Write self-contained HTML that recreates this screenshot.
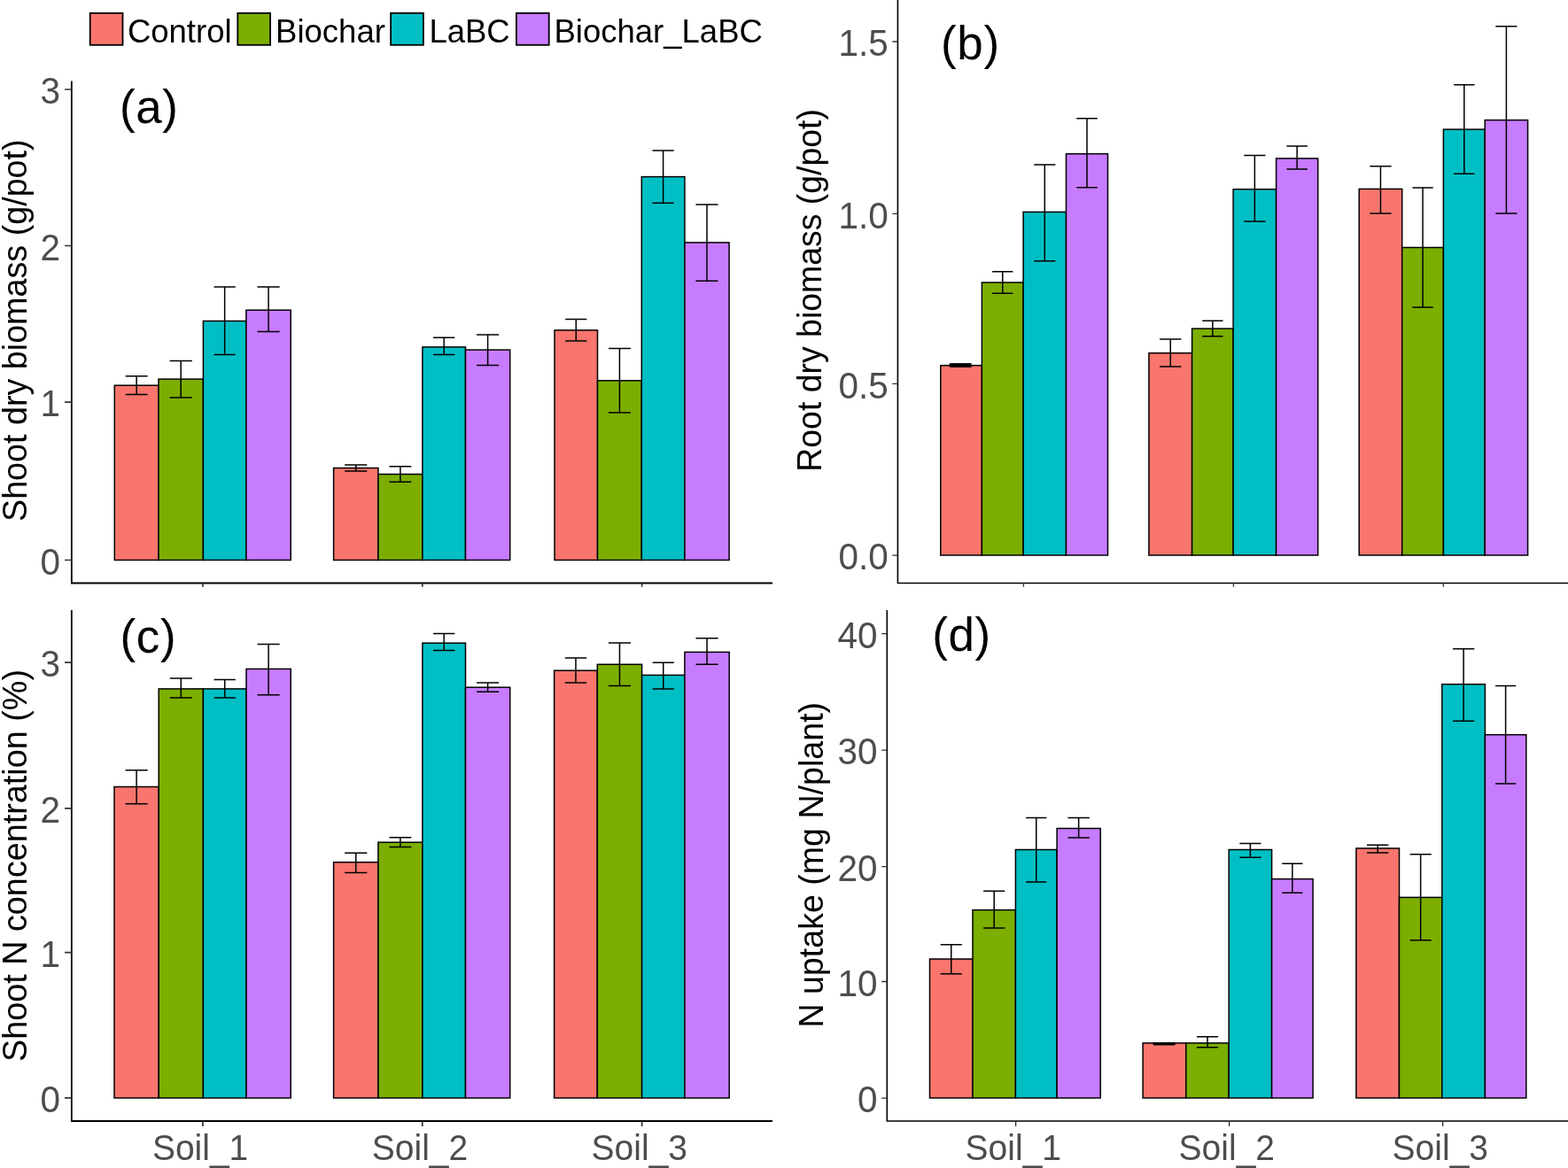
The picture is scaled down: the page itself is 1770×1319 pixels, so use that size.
<!DOCTYPE html><html><head><meta charset="utf-8"><style>html,body{margin:0;padding:0;background:#fff;overflow:hidden;}svg{display:block;}</style></head><body>
<svg width="1770" height="1319" viewBox="0 0 1770 1319">
<rect x="0" y="0" width="1770" height="1319" fill="#FFFFFF"/>
<g stroke="#000" stroke-width="1.5" stroke-linejoin="miter">
<rect x="129.3" y="435.2" width="49.7" height="197.3" fill="#F8766D"/>
<rect x="179" y="428.1" width="50.4" height="204.4" fill="#7CAE00"/>
<rect x="229.4" y="362.5" width="48.5" height="270" fill="#00BFC4"/>
<rect x="277.9" y="350.2" width="50.3" height="282.3" fill="#C77CFF"/>
<rect x="376.6" y="528.5" width="50.3" height="104" fill="#F8766D"/>
<rect x="426.9" y="535.5" width="50" height="97" fill="#7CAE00"/>
<rect x="476.9" y="391.9" width="48.6" height="240.6" fill="#00BFC4"/>
<rect x="525.5" y="395.1" width="50.2" height="237.4" fill="#C77CFF"/>
<rect x="626" y="372.9" width="48.5" height="259.6" fill="#F8766D"/>
<rect x="674.5" y="429.8" width="49.8" height="202.7" fill="#7CAE00"/>
<rect x="724.3" y="199.6" width="48.6" height="432.9" fill="#00BFC4"/>
<rect x="772.9" y="273.9" width="50.2" height="358.6" fill="#C77CFF"/>
</g>
<path d="M141.73 424.8H166.57M141.73 445.5H166.57M154.15 424.8V445.5M191.6 407.4H216.8M191.6 449H216.8M204.2 407.4V449M241.52 324.1H265.77M241.52 400.4H265.77M253.65 324.1V400.4M290.47 324.1H315.62M290.47 374.4H315.62M303.05 324.1V374.4M389.18 525H414.32M389.18 532H414.32M401.75 525V532M439.4 526.8H464.4M439.4 544.2H464.4M451.9 526.8V544.2M489.05 381.3H513.35M489.05 400.5H513.35M501.2 381.3V400.5M538.05 378H563.15M538.05 412.5H563.15M550.6 378V412.5M638.12 360.6H662.38M638.12 384.9H662.38M650.25 360.6V384.9M686.95 393.5H711.85M686.95 466H711.85M699.4 393.5V466M736.45 170.1H760.75M736.45 229.2H760.75M748.6 170.1V229.2M785.45 230.9H810.55M785.45 317.2H810.55M798 230.9V317.2" stroke="#000" stroke-width="1.5" fill="none"/>
<g stroke="#000" stroke-width="1.5" stroke-linejoin="miter">
<rect x="1061.8" y="412.7" width="46.6" height="214.3" fill="#F8766D"/>
<rect x="1108.4" y="319" width="46.7" height="308" fill="#7CAE00"/>
<rect x="1155.1" y="239.4" width="48.4" height="387.6" fill="#00BFC4"/>
<rect x="1203.5" y="173.7" width="47" height="453.3" fill="#C77CFF"/>
<rect x="1296.9" y="398.7" width="48.7" height="228.3" fill="#F8766D"/>
<rect x="1345.6" y="371.1" width="46.5" height="255.9" fill="#7CAE00"/>
<rect x="1392.1" y="213.7" width="48.5" height="413.3" fill="#00BFC4"/>
<rect x="1440.6" y="178.9" width="47.1" height="448.1" fill="#C77CFF"/>
<rect x="1534.2" y="213.4" width="48.5" height="413.6" fill="#F8766D"/>
<rect x="1582.7" y="279.5" width="46.7" height="347.5" fill="#7CAE00"/>
<rect x="1629.4" y="146.1" width="46.8" height="480.9" fill="#00BFC4"/>
<rect x="1676.2" y="135.6" width="48.4" height="491.4" fill="#C77CFF"/>
</g>
<path d="M1073.45 411.1H1096.75M1073.45 413.9H1096.75M1085.1 411.1V413.9M1120.08 306.8H1143.42M1120.08 331.3H1143.42M1131.75 306.8V331.3M1167.2 185.9H1191.4M1167.2 294.8H1191.4M1179.3 185.9V294.8M1215.25 133.8H1238.75M1215.25 211.7H1238.75M1227 133.8V211.7M1309.08 383H1333.42M1309.08 414.1H1333.42M1321.25 383V414.1M1357.22 362.3H1380.47M1357.22 379.7H1380.47M1368.85 362.3V379.7M1404.22 175.4H1428.47M1404.22 249.9H1428.47M1416.35 175.4V249.9M1452.38 164.9H1475.93M1452.38 190.9H1475.93M1464.15 164.9V190.9M1546.33 187.7H1570.58M1546.33 241H1570.58M1558.45 187.7V241M1594.38 211.9H1617.73M1594.38 347.1H1617.73M1606.05 211.9V347.1M1641.1 95.8H1664.5M1641.1 196.2H1664.5M1652.8 95.8V196.2M1688.3 29.8H1712.5M1688.3 241H1712.5M1700.4 29.8V241" stroke="#000" stroke-width="1.5" fill="none"/>
<g stroke="#000" stroke-width="1.5" stroke-linejoin="miter">
<rect x="129" y="888.5" width="50.2" height="351.4" fill="#F8766D"/>
<rect x="179.2" y="777.9" width="50.2" height="462" fill="#7CAE00"/>
<rect x="229.4" y="777.9" width="48.6" height="462" fill="#00BFC4"/>
<rect x="278" y="755.4" width="50.2" height="484.5" fill="#C77CFF"/>
<rect x="376.6" y="973.7" width="50.3" height="266.2" fill="#F8766D"/>
<rect x="426.9" y="951.2" width="50" height="288.7" fill="#7CAE00"/>
<rect x="476.9" y="726.2" width="48.6" height="513.7" fill="#00BFC4"/>
<rect x="525.5" y="776.2" width="50.2" height="463.7" fill="#C77CFF"/>
<rect x="625.6" y="757.2" width="48.7" height="482.7" fill="#F8766D"/>
<rect x="674.3" y="750.3" width="50.3" height="489.6" fill="#7CAE00"/>
<rect x="724.6" y="762.4" width="48.3" height="477.5" fill="#00BFC4"/>
<rect x="772.9" y="736.4" width="50.3" height="503.5" fill="#C77CFF"/>
</g>
<path d="M141.55 869.8H166.65M141.55 907.7H166.65M154.1 869.8V907.7M191.75 765.9H216.85M191.75 788.1H216.85M204.3 765.9V788.1M241.55 767.6H265.85M241.55 788.1H265.85M253.7 767.6V788.1M290.55 727.5H315.65M290.55 784.7H315.65M303.1 727.5V784.7M389.18 963.3H414.32M389.18 985.6H414.32M401.75 963.3V985.6M439.4 945.7H464.4M439.4 956.4H464.4M451.9 945.7V956.4M489.05 715.5H513.35M489.05 734.6H513.35M501.2 715.5V734.6M538.05 771H563.15M538.05 781.2H563.15M550.6 771V781.2M637.78 743.1H662.12M637.78 771.1H662.12M649.95 743.1V771.1M686.88 725.9H712.03M686.88 774.6H712.03M699.45 725.9V774.6M736.67 748.2H760.83M736.67 777.9H760.83M748.75 748.2V777.9M785.47 720.8H810.62M785.47 750.3H810.62M798.05 720.8V750.3" stroke="#000" stroke-width="1.5" fill="none"/>
<g stroke="#000" stroke-width="1.5" stroke-linejoin="miter">
<rect x="1049.5" y="1083" width="48.5" height="156.9" fill="#F8766D"/>
<rect x="1098" y="1027.6" width="48.4" height="212.3" fill="#7CAE00"/>
<rect x="1146.4" y="959.5" width="46.7" height="280.4" fill="#00BFC4"/>
<rect x="1193.1" y="935.5" width="49.1" height="304.4" fill="#C77CFF"/>
<rect x="1290.1" y="1177.9" width="48.7" height="62" fill="#F8766D"/>
<rect x="1338.8" y="1177.9" width="48.4" height="62" fill="#7CAE00"/>
<rect x="1387.2" y="959.5" width="48.4" height="280.4" fill="#00BFC4"/>
<rect x="1435.6" y="992.6" width="46.5" height="247.3" fill="#C77CFF"/>
<rect x="1530.9" y="958" width="48.6" height="281.9" fill="#F8766D"/>
<rect x="1579.5" y="1013.4" width="48.3" height="226.5" fill="#7CAE00"/>
<rect x="1627.8" y="772.7" width="48.6" height="467.2" fill="#00BFC4"/>
<rect x="1676.4" y="829.7" width="46.4" height="410.2" fill="#C77CFF"/>
</g>
<path d="M1061.62 1066.8H1085.88M1061.62 1099.8H1085.88M1073.75 1066.8V1099.8M1110.1 1006.3H1134.3M1110.1 1048H1134.3M1122.2 1006.3V1048M1158.08 923.4H1181.42M1158.08 995.9H1181.42M1169.75 923.4V995.9M1205.38 923.4H1229.93M1205.38 945.9H1229.93M1217.65 923.4V945.9M1302.27 1178H1326.62M1302.27 1179.6H1326.62M1314.45 1178V1179.6M1350.9 1170.8H1375.1M1350.9 1182.8H1375.1M1363 1170.8V1182.8M1399.3 952.5H1423.5M1399.3 968.2H1423.5M1411.4 952.5V968.2M1447.22 975.3H1470.47M1447.22 1008.2H1470.47M1458.85 975.3V1008.2M1543.05 954.2H1567.35M1543.05 962.9H1567.35M1555.2 954.2V962.9M1591.58 964.8H1615.73M1591.58 1061.7H1615.73M1603.65 964.8V1061.7M1639.95 732.8H1664.25M1639.95 814.2H1664.25M1652.1 732.8V814.2M1688 774.6H1711.2M1688 885.1H1711.2M1699.6 774.6V885.1" stroke="#000" stroke-width="1.5" fill="none"/>
<rect x="1071.6" y="410.3" width="24" height="4.3" fill="#000"/>
<rect x="1301.6" y="1177" width="24.1" height="3.3" fill="#000"/>
<path d="M80.85 91.6V658.5H872" stroke="#000" stroke-width="1.8" fill="none" stroke-linecap="butt"/>
<path d="M73.05 632.5H80.85M73.05 454.1H80.85M73.05 277.5H80.85M73.05 101H80.85M228.9 658.5V662.8M476.8 658.5V662.8M724.6 658.5V662.8" stroke="#333" stroke-width="1.7" fill="none"/>
<text transform="translate(68 648.7) scale(1 1.06)" font-size="40.5" fill="#4D4D4D" text-anchor="end" font-family='"Liberation Sans", sans-serif'>0</text>
<text transform="translate(68 470.3) scale(1 1.06)" font-size="40.5" fill="#4D4D4D" text-anchor="end" font-family='"Liberation Sans", sans-serif'>1</text>
<text transform="translate(68 293.7) scale(1 1.06)" font-size="40.5" fill="#4D4D4D" text-anchor="end" font-family='"Liberation Sans", sans-serif'>2</text>
<text transform="translate(68 117.2) scale(1 1.06)" font-size="40.5" fill="#4D4D4D" text-anchor="end" font-family='"Liberation Sans", sans-serif'>3</text>
<text x="134.9" y="138.5" font-size="53" fill="#000" letter-spacing="0.6" font-family='"Liberation Sans", sans-serif'>(a)</text>
<text transform="translate(29.5 589) rotate(-90) scale(1 1.05)" x="0" y="0" font-size="37.7" fill="#000" font-family='"Liberation Sans", sans-serif' textLength="431.6" lengthAdjust="spacingAndGlyphs">Shoot dry biomass (g/pot)</text>
<path d="M1013.4 0V658.5H1770" stroke="#000" stroke-width="1.6" fill="none" stroke-linecap="butt"/>
<path d="M1007.3 627.2H1013.4M1007.3 433.4H1013.4M1007.3 241.3H1013.4M1007.3 47H1013.4M1155.4 658.5V662.8M1392.4 658.5V662.8M1629.3 658.5V662.8" stroke="#333" stroke-width="1.3" fill="none"/>
<text transform="translate(1002.8 643.4) scale(1 1.06)" font-size="40.5" fill="#4D4D4D" text-anchor="end" font-family='"Liberation Sans", sans-serif'>0.0</text>
<text transform="translate(1002.8 449.6) scale(1 1.06)" font-size="40.5" fill="#4D4D4D" text-anchor="end" font-family='"Liberation Sans", sans-serif'>0.5</text>
<text transform="translate(1002.8 257.5) scale(1 1.06)" font-size="40.5" fill="#4D4D4D" text-anchor="end" font-family='"Liberation Sans", sans-serif'>1.0</text>
<text transform="translate(1002.8 63.2) scale(1 1.06)" font-size="40.5" fill="#4D4D4D" text-anchor="end" font-family='"Liberation Sans", sans-serif'>1.5</text>
<text x="1062.1" y="67.4" font-size="53" fill="#000" letter-spacing="0.6" font-family='"Liberation Sans", sans-serif'>(b)</text>
<text transform="translate(927.3 532.7) rotate(-90) scale(1 1.05)" x="0" y="0" font-size="37.7" fill="#000" font-family='"Liberation Sans", sans-serif' textLength="409.6" lengthAdjust="spacingAndGlyphs">Root dry biomass (g/pot)</text>
<path d="M80.85 689V1266H872" stroke="#000" stroke-width="1.8" fill="none" stroke-linecap="butt"/>
<path d="M73.05 1239.9H80.85M73.05 1075.7H80.85M73.05 912.9H80.85M73.05 748.1H80.85M228.9 1266V1271.9M476.8 1266V1271.9M724.6 1266V1271.9" stroke="#333" stroke-width="1.7" fill="none"/>
<text transform="translate(68.1 1256.1) scale(1 1.06)" font-size="40.5" fill="#4D4D4D" text-anchor="end" font-family='"Liberation Sans", sans-serif'>0</text>
<text transform="translate(68.1 1091.9) scale(1 1.06)" font-size="40.5" fill="#4D4D4D" text-anchor="end" font-family='"Liberation Sans", sans-serif'>1</text>
<text transform="translate(68.1 929.1) scale(1 1.06)" font-size="40.5" fill="#4D4D4D" text-anchor="end" font-family='"Liberation Sans", sans-serif'>2</text>
<text transform="translate(68.1 764.3) scale(1 1.06)" font-size="40.5" fill="#4D4D4D" text-anchor="end" font-family='"Liberation Sans", sans-serif'>3</text>
<text x="135.6" y="737.2" font-size="53" fill="#000" letter-spacing="0.6" font-family='"Liberation Sans", sans-serif'>(c)</text>
<text transform="translate(29.5 1199) rotate(-90) scale(1 1.05)" x="0" y="0" font-size="37.7" fill="#000" font-family='"Liberation Sans", sans-serif' textLength="443" lengthAdjust="spacingAndGlyphs">Shoot N concentration (%)</text>
<path d="M1001.3 689.1V1266H1770" stroke="#000" stroke-width="1.6" fill="none" stroke-linecap="butt"/>
<path d="M995.2 1240.1H1001.3M995.2 1108.5H1001.3M995.2 978.6H1001.3M995.2 847.1H1001.3M995.2 715.6H1001.3M1146.6 1266V1271.9M1387.6 1266V1271.9M1628.6 1266V1271.9" stroke="#333" stroke-width="1.3" fill="none"/>
<text transform="translate(990.6 1256.3) scale(1 1.06)" font-size="40.5" fill="#4D4D4D" text-anchor="end" font-family='"Liberation Sans", sans-serif'>0</text>
<text transform="translate(990.6 1124.7) scale(1 1.06)" font-size="40.5" fill="#4D4D4D" text-anchor="end" font-family='"Liberation Sans", sans-serif'>10</text>
<text transform="translate(990.6 994.8) scale(1 1.06)" font-size="40.5" fill="#4D4D4D" text-anchor="end" font-family='"Liberation Sans", sans-serif'>20</text>
<text transform="translate(990.6 863.3) scale(1 1.06)" font-size="40.5" fill="#4D4D4D" text-anchor="end" font-family='"Liberation Sans", sans-serif'>30</text>
<text transform="translate(990.6 731.8) scale(1 1.06)" font-size="40.5" fill="#4D4D4D" text-anchor="end" font-family='"Liberation Sans", sans-serif'>40</text>
<text x="1052.2" y="735.2" font-size="53" fill="#000" letter-spacing="0.6" font-family='"Liberation Sans", sans-serif'>(d)</text>
<text transform="translate(928.5 1160.6) rotate(-90) scale(1 1.05)" x="0" y="0" font-size="37.7" fill="#000" font-family='"Liberation Sans", sans-serif' textLength="367.7" lengthAdjust="spacingAndGlyphs">N uptake (mg N/plant)</text>
<text transform="translate(226.1 1309.5) scale(1 1.06)" font-size="39" fill="#4D4D4D" text-anchor="middle" font-family='"Liberation Sans", sans-serif'>Soil<tspan dy="1.3">_</tspan><tspan dy="-1.3">1</tspan></text>
<text transform="translate(474 1309.5) scale(1 1.06)" font-size="39" fill="#4D4D4D" text-anchor="middle" font-family='"Liberation Sans", sans-serif'>Soil<tspan dy="1.3">_</tspan><tspan dy="-1.3">2</tspan></text>
<text transform="translate(721.8 1309.5) scale(1 1.06)" font-size="39" fill="#4D4D4D" text-anchor="middle" font-family='"Liberation Sans", sans-serif'>Soil<tspan dy="1.3">_</tspan><tspan dy="-1.3">3</tspan></text>
<text transform="translate(1143.8 1309.5) scale(1 1.06)" font-size="39" fill="#4D4D4D" text-anchor="middle" font-family='"Liberation Sans", sans-serif'>Soil<tspan dy="1.3">_</tspan><tspan dy="-1.3">1</tspan></text>
<text transform="translate(1384.8 1309.5) scale(1 1.06)" font-size="39" fill="#4D4D4D" text-anchor="middle" font-family='"Liberation Sans", sans-serif'>Soil<tspan dy="1.3">_</tspan><tspan dy="-1.3">2</tspan></text>
<text transform="translate(1625.8 1309.5) scale(1 1.06)" font-size="39" fill="#4D4D4D" text-anchor="middle" font-family='"Liberation Sans", sans-serif'>Soil<tspan dy="1.3">_</tspan><tspan dy="-1.3">3</tspan></text>
<rect x="101.7" y="14.8" width="36.8" height="36" fill="#F8766D" stroke="#000" stroke-width="1.8"/>
<text x="143.9" y="48" font-size="36.5" fill="#000" font-family='"Liberation Sans", sans-serif'>Control</text>
<rect x="268.3" y="14.8" width="36.8" height="36" fill="#7CAE00" stroke="#000" stroke-width="1.8"/>
<text x="311.1" y="48" font-size="36.5" fill="#000" font-family='"Liberation Sans", sans-serif'>Biochar</text>
<rect x="441.1" y="14.8" width="36.8" height="36" fill="#00BFC4" stroke="#000" stroke-width="1.8"/>
<text x="484.4" y="48" font-size="36.5" fill="#000" font-family='"Liberation Sans", sans-serif'>LaBC</text>
<rect x="582.9" y="14.8" width="36.8" height="36" fill="#C77CFF" stroke="#000" stroke-width="1.8"/>
<text x="625.5" y="48" font-size="36.5" fill="#000" font-family='"Liberation Sans", sans-serif'>Biochar_LaBC</text>
</svg></body></html>
